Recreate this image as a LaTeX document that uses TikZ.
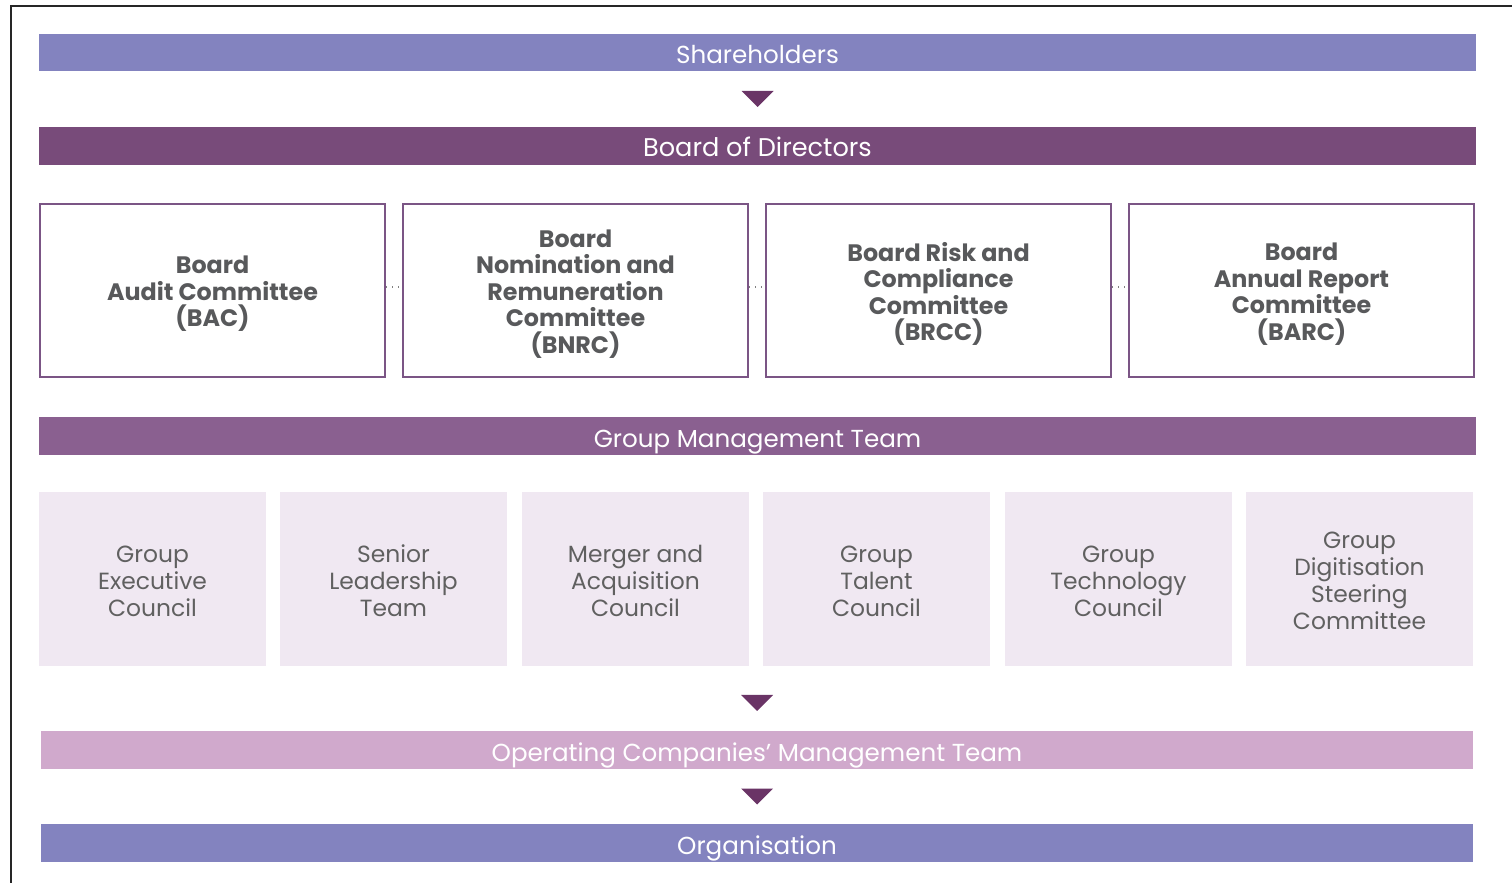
\documentclass[tikz,border=0pt]{standalone}
\usepackage{fontspec}
\setmainfont{Poppins}
\usetikzlibrary{calc}
\definecolor{lav}{HTML}{8383BF}
\definecolor{bodc}{HTML}{784B7A}
\definecolor{gmtc}{HTML}{8A6090}
\definecolor{opcoc}{HTML}{D0A9CC}
\definecolor{boxline}{HTML}{7B5585}
\definecolor{lightbox}{HTML}{F0E8F2}
\definecolor{tric}{HTML}{6A3466}
\definecolor{boldtxt}{HTML}{58595B}
\definecolor{lighttxt}{HTML}{606060}
\begin{document}
\begin{tikzpicture}[x=0.5pt,y=-0.5pt,
  bar/.style={fill=#1, text=white, minimum width=718.5pt, minimum height=18.5pt, inner sep=0pt,
    text height=11pt, text depth=0pt, font=\fontsize{12.3}{14}\selectfont},
  combox/.style={draw=boxline, line width=1pt, fill=white, minimum width=172.5pt, minimum height=86.5pt,
    inner sep=0pt},
  comtext/.style={inner sep=0pt, align=center, text=boldtxt, font=\bfseries\fontsize{11.9}{13.3}\selectfont},
  councilbox/.style={fill=lightbox, minimum width=113.5pt, minimum height=87pt, inner sep=0pt},
  counciltext/.style={inner sep=0pt, align=center, text=lighttxt, font=\fontsize{11.7}{13.5}\selectfont},
  dotlink/.style={draw=gray, line width=0.7pt, dash pattern=on 0.7pt off 2.3pt},
  tri/.style={fill=tric}
]
\useasboundingbox (0,0) rectangle (1512,883);
% frame
\draw[line width=1pt, black!85] (10.5,883) -- (10.5,6.5) -- (1512,6.5);

% bars
\node[bar=lav] (sh) at (757.5,52.5) {Shareholders};
\node[bar=bodc, minimum height=19pt, font=\fontsize{12.8}{14}\selectfont] (bod) at (757.5,146) {Board of Directors};
\node[bar=gmtc, minimum height=19pt] (gmt) at (757.5,436) {Group Management Team};
\node[bar=opcoc, minimum width=716pt, minimum height=19pt] (opco) at (757,750) {Operating Companies’ Management Team};
\node[bar=lav, minimum width=716pt, minimum height=19pt] (org) at (757,843) {Organisation};

% board committees
\node[combox] (bac) at (212.5,290.5) {};
\node[combox] (bnrc) at (575.5,290.5) {};
\node[combox] (brcc) at (938.5,290.5) {};
\node[combox] (barc) at (1301.5,290.5) {};
\node[comtext] (bac-t) at ([yshift=-1.75pt]bac.center) {Board\\Audit Committee\\(BAC)};
\node[comtext] (bnrc-t) at ([yshift=-1.75pt]bnrc.center) {Board\\Nomination and\\Remuneration\\Committee\\(BNRC)};
\node[comtext] (brcc-t) at ([yshift=-1.75pt]brcc.center) {Board Risk and\\Compliance\\Committee\\(BRCC)};
\node[comtext] (barc-t) at ([yshift=-1.75pt]barc.center) {Board\\Annual Report\\Committee\\(BARC)};

\draw[dotlink] ([yshift=1.75pt]bac.east) -- ([yshift=1.75pt]bnrc.west);
\draw[dotlink] ([yshift=1.75pt]bnrc.east) -- ([yshift=1.75pt]brcc.west);
\draw[dotlink] ([yshift=1.75pt]brcc.east) -- ([yshift=1.75pt]barc.west);

% councils
\node[councilbox] (gec) at (152.5,579) {};
\node[councilbox] (slt) at (393.5,579) {};
\node[councilbox] (mac) at (635.5,579) {};
\node[councilbox] (gtc) at (876.5,579) {};
\node[councilbox] (gtec) at (1118.5,579) {};
\node[councilbox] (gdsc) at (1359.5,579) {};
\node[counciltext] (gec-t) at ([yshift=-1pt]gec.center) {Group\\Executive\\Council};
\node[counciltext] (slt-t) at ([yshift=-1pt]slt.center) {Senior\\Leadership\\Team};
\node[counciltext] (mac-t) at ([yshift=-1pt]mac.center) {Merger and\\Acquisition\\Council};
\node[counciltext] (gtc-t) at ([yshift=-1pt]gtc.center) {Group\\Talent\\Council};
\node[counciltext] (gtec-t) at ([yshift=-1pt]gtec.center) {Group\\Technology\\Council};
\node[counciltext] (gdsc-t) at ([yshift=-1pt]gdsc.center) {Group\\Digitisation\\Steering\\Committee};

% arrows
\coordinate (m1) at ($(sh.south)!0.5!(bod.north)$);
\coordinate (m2) at ($(opco.north |- gec.south)!0.57!(opco.north)$);
\coordinate (m3) at ($(opco.south)!0.5!(org.north)$);
\foreach \m in {m1,m2,m3}{
  \fill[tri] ($(\m)+(-16,-8)$) -- ++(32,0) -- ++(-16,16) -- cycle;
}
\end{tikzpicture}
\end{document}
